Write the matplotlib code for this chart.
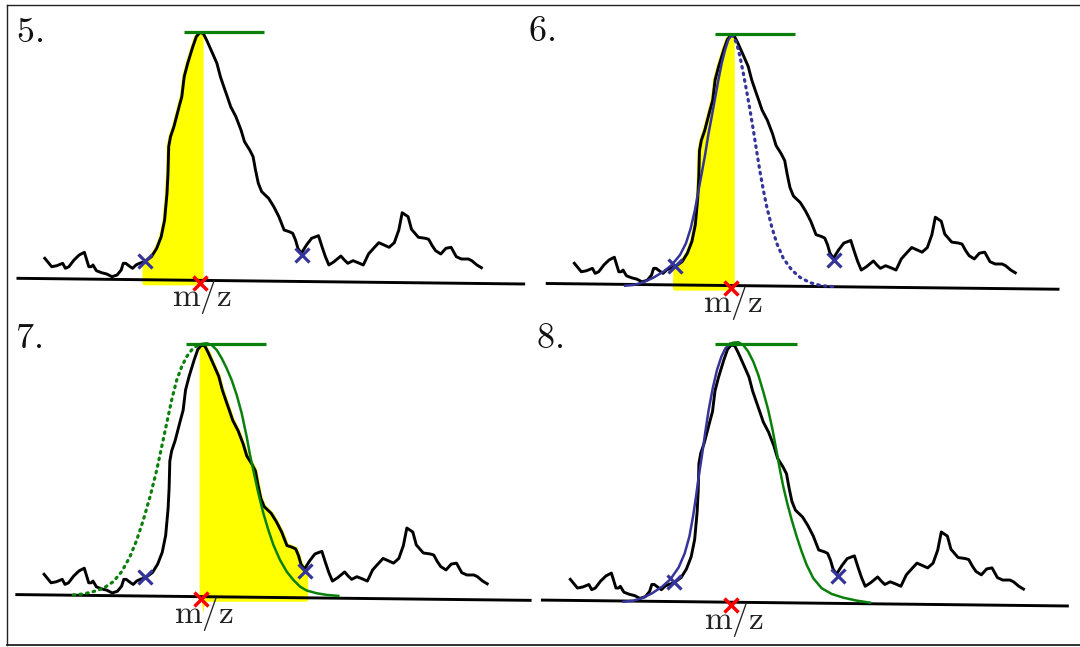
import numpy as np
import matplotlib
matplotlib.use("Agg")
import matplotlib.pyplot as plt
from matplotlib.lines import Line2D

plt.rcParams['mathtext.fontset'] = 'cm'

# ---------------- data (m/z in arbitrary units, intensity in arbitrary units) ----------------
profile_mz = [44.8, 51.7, 56.8, 62.7, 65.4, 68.9, 74.0, 79.2, 84.4, 88.8, 91.3, 93.0, 96.4, 101.6,
              106.7, 111.9, 117.1, 121.2, 123.3, 125.7, 130.2, 132.6, 136.0, 139.5, 144.6, 151.5,
              156.7, 161.2, 164.6, 167.0, 168.0, 168.7, 170.5, 173.9, 179.1, 181.8, 184.2, 187.7,
              192.8, 196.3, 199.7, 203.2, 206.6, 211.8, 216.9, 220.4, 223.8, 227.3, 230.7, 235.9,
              241.0, 244.5, 249.7, 253.1, 255.5, 258.3, 261.7, 268.6, 273.8, 278.9, 284.1, 289.3,
              292.7, 295.5, 297.9, 301.3, 306.5, 311.6, 318.5, 322.0, 325.4, 328.9, 334.0, 340.9,
              344.4, 347.8, 353.0, 358.1, 363.3, 368.5, 373.6, 378.8, 384.0, 389.1, 394.3, 398.8,
              402.2, 408.1, 411.5, 418.4, 425.3, 428.7, 432.2, 435.6, 440.8, 445.9, 451.1, 456.3,
              461.4, 468.3, 471.8, 476.9, 481.4]
profile_int = [31.7, 23.3, 24.3, 26.7, 21.7, 23.3, 30.0, 35.0, 37.7, 23.3, 23.3, 25.0, 19.3, 17.3,
               16.0, 13.3, 15.0, 20.0, 26.7, 26.7, 23.3, 21.7, 25.0, 26.7, 28.3, 33.3,
               41.7, 53.3, 70.0, 96.7, 116.7, 143.3, 153.3, 163.3, 183.3, 193.3, 213.3, 226.7,
               243.3, 253.3, 257.3, 256.7, 250.0, 238.3, 226.7, 213.3, 203.3, 193.3, 183.3, 173.3,
               160.0, 148.3, 140.0, 133.3, 120.0, 106.7, 98.3, 91.7, 83.3, 73.3, 60.0, 58.3,
               56.7, 50.0, 41.7, 36.7, 45.0, 51.7, 54.3, 43.3, 33.3, 25.0, 28.3, 34.0,
               30.0, 26.7, 29.3, 27.3, 25.0, 36.0, 41.7, 47.3, 45.0, 42.7, 47.3, 60.0,
               77.3, 73.3, 60.7, 52.7, 51.7, 50.7, 44.3, 39.3, 36.0, 41.7, 42.7, 33.3,
               31.0, 31.0, 29.3, 25.0, 22.3]

baseline_mz = [16.5, 525.1]
baseline_int = [11.7, 6.0]

apex_line_mz = [184.2, 263.5]
apex_line_int = [258.5, 258.5]

bounds_mz = [144.6, 302.3]          # blue crosses
bounds_int = [29.3, 35.0]
centroid_mz = [199.7]                # red cross
centroid_int = [7.3]

# panel 6: left-half fit (solid) and its mirror (dotted)
p6_fit_mz = [95.0, 103.2, 113.1, 123.0, 132.9, 141.2, 149.4, 155.3, 160.0, 164.2, 167.5, 170.9,
             174.2, 177.4, 180.8, 184.1, 187.4, 190.7, 194.0, 197.2, 200.6]
p6_fit_int = [9.5, 10.2, 12.9, 17.4, 23.4, 30.0, 39.9, 51.5, 66.3, 84.5, 102.6, 120.8,
              138.9, 158.7, 176.8, 195.0, 213.2, 229.7, 242.9, 252.8, 257.7]
p6_mirror_mz = [200.6, 202.2, 205.5, 208.8, 212.1, 215.5, 218.7, 222.0, 225.4, 228.6, 231.9, 235.3,
                240.2, 245.2, 251.7, 260.0, 268.2, 278.1, 289.7, 302.9]
p6_mirror_int = [257.7, 256.0, 249.5, 236.3, 219.8, 201.6, 183.5, 163.7, 142.2, 122.4, 104.3, 87.7,
                 67.9, 51.5, 36.6, 25.1, 17.8, 12.5, 9.5, 8.5]

# panel 7: right-half fit (solid) and its mirror (dotted)
p7_mirror_mz = [73.6, 83.5, 93.3, 103.2, 113.0, 121.3, 129.4, 136.1, 142.6, 149.2, 155.8, 160.7,
                165.6, 170.5, 175.5, 180.4, 185.3, 190.2, 195.1, 200.1]
p7_mirror_int = [11.3, 12.3, 14.6, 17.9, 24.4, 34.3, 49.0, 65.5, 85.2, 108.1, 134.4, 157.4,
                 180.4, 203.4, 223.1, 236.3, 246.1, 252.7, 256.6, 258.6]
p7_fit_mz = [200.1, 205.0, 209.9, 214.9, 219.8, 224.7, 229.6, 234.6, 239.5, 244.4, 247.7, 251.6,
             255.9, 260.8, 265.7, 270.7, 277.2, 283.8, 290.3, 296.9, 303.5, 313.4, 323.2, 334.7]
p7_fit_int = [258.6, 259.3, 257.6, 252.7, 244.5, 234.6, 223.1, 208.3, 190.3, 167.3, 149.3, 131.3,
              111.6, 91.9, 75.5, 60.7, 45.9, 34.4, 26.2, 19.6, 15.7, 13.0, 11.4, 10.4]

# panel 8: both half fits
p8_left_mz = [95.9, 105.5, 115.1, 123.5, 133.2, 141.2, 149.2, 155.0, 159.5, 163.0, 165.9, 168.5,
              171.7, 174.9, 178.1, 182.0, 186.1, 190.3, 194.2, 198.3]
p8_left_int = [10.1, 11.1, 14.0, 18.2, 24.6, 31.7, 43.2, 56.7, 72.8, 92.0, 111.3, 130.6,
               151.5, 173.9, 194.8, 215.7, 233.3, 246.1, 254.2, 258.4]
p8_right_mz = [198.3, 201.8, 206.6, 211.4, 216.2, 221.1, 225.9, 230.7, 235.5, 239.7, 243.6, 246.8,
               250.0, 253.8, 258.1, 262.9, 267.7, 272.5, 278.9, 287.0, 296.6, 307.8, 320.7, 333.5]
p8_right_int = [258.4, 259.7, 260.1, 257.4, 251.1, 241.4, 228.6, 212.5, 194.8, 175.5, 154.6, 137.0,
                120.9, 104.9, 88.9, 72.8, 58.4, 45.6, 32.7, 23.1, 17.6, 14.0, 11.2, 9.2]

panel_labels = ["5.", "6.", "7.", "8."]
axis_label = "m/z"

# yellow areas: (from m/z, to m/z) for panels 5, 6, 7 ; None for 8
yellow_ranges = [(144.6, 201.5), (144.6, 201.5), (200.1, 302.9), None]
yellow_floor = 6.7

# ---------------- layout ----------------
W, H = 1080, 647
fig = plt.figure(figsize=(W / 100, H / 100), dpi=100)

# per panel: scale, x offset (px), y offset (px)
panel_geom = [(1.0, 0.0, 0.0), (1.01, 529.1, 2.4), (1.015, -1.4, 312.1), (1.038, 523.8, 311.2)]
label_pos = [(16.0, 41.7), (528.0, 41.3), (15.0, 348.3), (536.0, 348.3)]

BLACK = '#000000'
GREEN = '#0a800a'
BLUE = '#34349a'
RED = '#ff0000'
YELLOW = '#ffff00'

pmz = np.array(profile_mz)
pint = np.array(profile_int)

axes = []
for s, dx, dy in panel_geom:
    ax = fig.add_axes([dx / W, 1 - (dy + 320 * s) / H, 540 * s / W, 320 * s / H])
    ax.set_xlim(0, 540)
    ax.set_ylim(-30, 290)
    ax.axis('off')
    axes.append(ax)

for i, ax in enumerate(axes):
    # yellow region under the profile
    yr = yellow_ranges[i]
    if yr is not None:
        lo, hi = yr
        inside = (pmz > lo) & (pmz < hi)
        xs = np.concatenate([[lo], pmz[inside], [hi]])
        ys = np.concatenate([[np.interp(lo, pmz, pint)], pint[inside], [np.interp(hi, pmz, pint)]])
        poly_x = np.concatenate([xs, [hi, lo]])
        poly_y = np.concatenate([ys, [yellow_floor, yellow_floor]])
        ax.fill(poly_x, poly_y, color=YELLOW, lw=3.0, ec=YELLOW, joinstyle='round',
                zorder=1, clip_on=False)
        if i == 2:
            ax.fill([lo, lo + 3.5, lo + 1.5], [yellow_floor, yellow_floor, -7], color=YELLOW,
                    lw=0, zorder=1, clip_on=False)
    # baseline
    ax.plot(baseline_mz, baseline_int, color=BLACK, lw=2.1, zorder=2, clip_on=False,
            solid_capstyle='butt')
    # profile
    ax.plot(profile_mz, profile_int, color=BLACK, lw=2.1, zorder=3, clip_on=False,
            solid_joinstyle='round')
    # apex line
    ax.plot(apex_line_mz, apex_line_int, color=GREEN, lw=2.3, zorder=5, clip_on=False,
            solid_capstyle='butt')

    # fits
    dot = dict(linestyle=(0, (0.5, 1.6)), dash_capstyle='round', lw=2.3, clip_on=False, zorder=4)
    if i == 1:
        ax.plot(p6_fit_mz, p6_fit_int, color=BLUE, lw=1.8, zorder=4, clip_on=False)
        ax.plot(p6_mirror_mz, p6_mirror_int, color=BLUE, **dot)
    elif i == 2:
        ax.plot(p7_mirror_mz, p7_mirror_int, color=GREEN, **dot)
        ax.plot(p7_fit_mz, p7_fit_int, color=GREEN, lw=1.8, zorder=4, clip_on=False)
    elif i == 3:
        ax.plot(p8_left_mz, p8_left_int, color=BLUE, lw=1.8, zorder=4, clip_on=False)
        ax.plot(p8_right_mz, p8_right_int, color=GREEN, lw=1.8, zorder=4, clip_on=False)

    # markers
    ax.plot(bounds_mz, bounds_int, linestyle='none', marker='x', ms=10, mew=2.3,
            color=BLUE, zorder=6, clip_on=False)
    ax.plot(centroid_mz, centroid_int, linestyle='none', marker='x', ms=10, mew=2.5,
            color=RED, zorder=7, clip_on=False)

    # m/z label
    ax.text(202, -16.5, r'$\mathrm{' + axis_label + '}$', ha='center', va='baseline',
            fontsize=24, color='#222222', zorder=8)

for (x, y), lab in zip(label_pos, panel_labels):
    fig.text(x / W, 1 - y / H, r'$\mathrm{' + lab + '}$', ha='left', va='baseline',
             fontsize=26, color='#111111')

# outer frame (left, top, bottom)
frame_col = '#222222'
fig.add_artist(Line2D([6.5 / W, 6.5 / W], [1 - 4.5 / H, 1 - 645 / H], color=frame_col, lw=1.0,
                      transform=fig.transFigure))
fig.add_artist(Line2D([6.5 / W, 1.0], [1 - 4.5 / H, 1 - 4.5 / H], color=frame_col, lw=1.0,
                      transform=fig.transFigure))
fig.add_artist(Line2D([6.5 / W, 1.0], [1 - 645 / H, 1 - 645 / H], color=frame_col, lw=1.3,
                      transform=fig.transFigure))

fig.savefig('out.png', dpi=100)
